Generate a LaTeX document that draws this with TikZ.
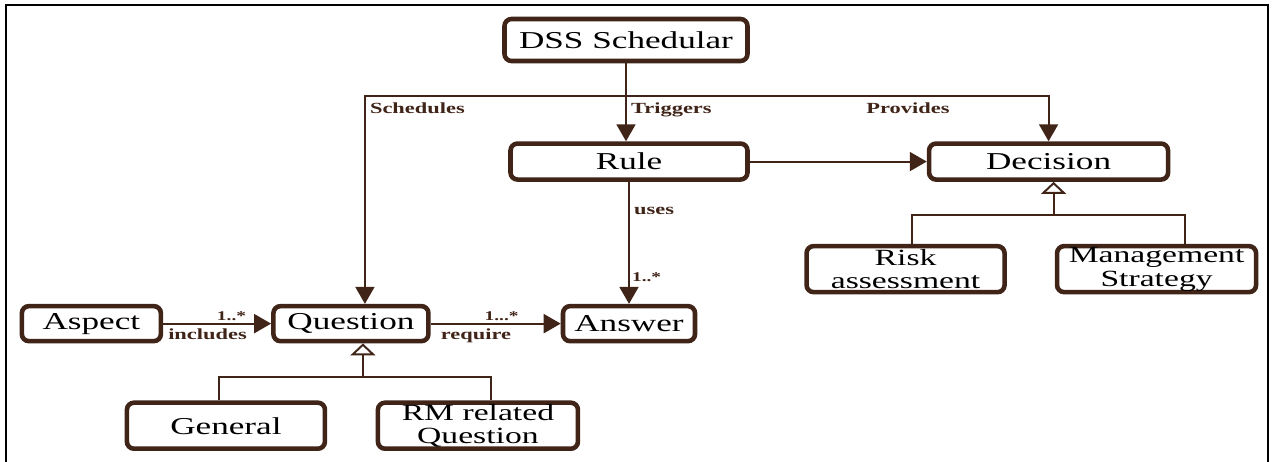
\documentclass[tikz,border=0pt]{standalone}
\usepackage{fontspec}
\setmainfont[FakeStretch=1.45]{Liberation Serif}
\usepackage{tikz}
\usetikzlibrary{arrows.meta,positioning,calc}
\definecolor{umlbrown}{RGB}{64,36,24}

\begin{document}
\begin{tikzpicture}[
    box/.style={rectangle, draw=umlbrown, line width=2.6pt, rounded corners=4pt,
                fill=white, align=center, inner sep=0pt,
                font=\fontsize{13.8}{12.2}\selectfont},
    twoline/.style={box, minimum height=0.92cm, font=\fontsize{13.2}{13.4}\selectfont},
    link/.style={draw=umlbrown, line width=1.1pt},
    conn/.style={link, -{Triangle[length=0.34cm,width=0.38cm]}},
    gen/.style={link, -{Triangle[open,length=0.24cm,width=0.5cm,fill=white]}},
    lbl/.style={font=\fontsize{8.8}{10}\selectfont\bfseries, text=umlbrown, inner sep=1pt},
    mult/.style={font=\fontsize{7.6}{8}\selectfont\bfseries, text=umlbrown, inner sep=1pt}
]
\useasboundingbox (0,0) rectangle (25.46,-9.24);
\draw[black, line width=1.2pt] (0.12,-9.3) -- (0.12,-0.1) -- (25.36,-0.1) -- (25.36,-9.3);

\node[box, minimum width=4.86cm, minimum height=0.84cm] (dss) at (12.52,-0.80) {DSS Schedular};
\node[box, minimum width=4.74cm, minimum height=0.72cm, below=1.56cm of dss, xshift=0.06cm] (rule) {Rule};
\node[box, minimum width=4.78cm, minimum height=0.72cm, right=3.54cm of rule] (decision) {Decision};
\node[twoline, minimum width=3.96cm, below=1.24cm of decision, xshift=-2.86cm] (risk) {Risk\\assessment};
\node[twoline, minimum width=3.98cm, below=1.24cm of decision, xshift=2.16cm] (mgmt) {Management\\Strategy};
\node[box, minimum width=2.64cm, minimum height=0.70cm, below=2.44cm of rule] (answer) {Answer};
\node[box, minimum width=3.10cm, minimum height=0.70cm, left=2.6cm of answer] (question) {Question};
\node[box, minimum width=2.78cm, minimum height=0.70cm, left=2.16cm of question] (aspect) {Aspect};
\node[box, minimum width=3.96cm, minimum height=0.92cm, below=1.14cm of question, xshift=-2.5cm] (general) {General};
\node[twoline, minimum width=4.00cm, below=1.14cm of question, xshift=2.54cm] (rmq) {RM related\\Question};

\coordinate (bus) at ($(dss.south)+(0,-0.66)$);
\coordinate (qtop) at ([xshift=0.28cm]question.north);
\coordinate (qsplit) at ($(question.south)+(0.24,-0.68)$);
\coordinate (dsplit) at ($(decision.south)+(0.1,-0.66)$);

\draw[conn] (dss.south) -- (dss.south |- rule.north);
\draw[conn] (bus) -| (qtop);
\draw[conn] (bus) -| (decision.north);
\draw[conn] (rule) -- (decision);
\draw[conn] (rule.south) -- (rule.south |- answer.north);
\draw[conn] (aspect.east) -- (question.west);
\draw[conn] (question.east) -- (answer.west);

\draw[link] ([xshift=-0.14cm]general.north) |- (qsplit) -| ([xshift=0.26cm]rmq.north);
\draw[gen] (qsplit) -- (qsplit |- question.south);
\draw[link] ([xshift=0.12cm]risk.north) |- (dsplit) -| ([xshift=0.56cm]mgmt.north);
\draw[gen] (dsplit) -- (dsplit |- decision.south);

% Annotations
\node[lbl, anchor=north west] (schedules) at ($(qtop |- bus)+(0.06,-0.08)$) {Schedules};
\node[lbl, anchor=north west] (triggers) at ($(bus)+(0.06,-0.08)$) {Triggers};
\node[lbl, anchor=north] (provides) at ($(bus)+(5.64,-0.08)$) {Provides};
\node[lbl, anchor=west] (uses) at ($(rule.south)+(0.06,-0.58)$) {uses};
\node[mult, anchor=south west] (usesmult) at ($(answer.north)+(0.02,0.4)$) {1..*};
\node[mult, anchor=south east] (inclmult) at ($(question.west)+(-0.46,0.02)$) {1..*};
\node[lbl, anchor=north west] (includes) at ($(aspect.east)+(0.06,-0.06)$) {includes};
\node[mult, anchor=south east] (reqmult) at ($(answer.west)+(-0.8,0.02)$) {1...*};
\node[lbl, anchor=north west] (require) at ($(question.east)+(0.16,-0.06)$) {require};
\end{tikzpicture}
\end{document}
